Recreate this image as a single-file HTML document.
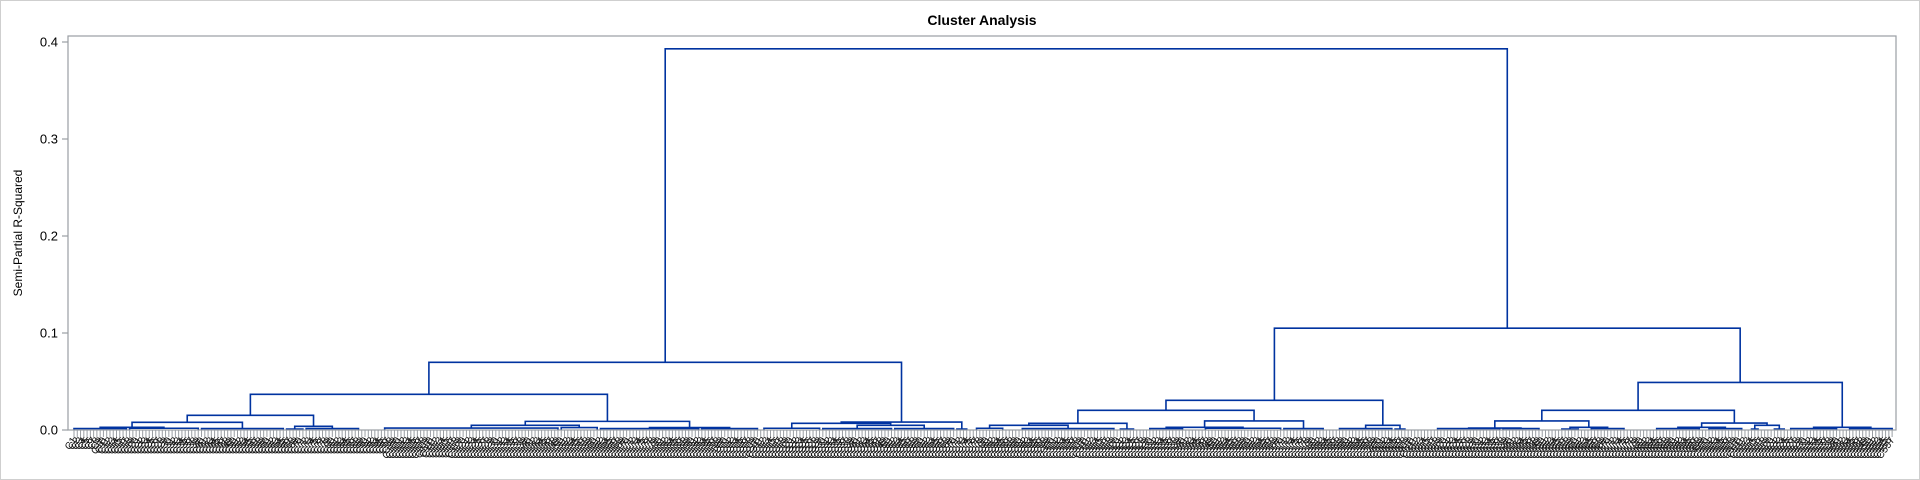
<!DOCTYPE html>
<html><head><meta charset="utf-8"><style>
html,body{margin:0;padding:0;background:#fff;}
svg{display:block;font-family:"Liberation Sans",Arial,sans-serif;}
</style></head><body>
<svg id="chart" width="1920" height="480" viewBox="0 0 1920 480" xmlns="http://www.w3.org/2000/svg">
<rect x="0.5" y="0.5" width="1919" height="479" fill="#fff" stroke="#cfcfcf"/>
<text x="982" y="25" text-anchor="middle" font-size="14" font-weight="bold" fill="#000">Cluster Analysis</text>
<text transform="translate(22,233) rotate(-90)" text-anchor="middle" font-size="12" fill="#000">Semi-Partial R-Squared</text>
<g id="yaxis"></g>
<g id="xaxis"></g>
<g id="tree"></g>
<rect x="68" y="36" width="1828" height="394" fill="none" stroke="#9a9ea3" stroke-width="1.2"/>
</svg>
<script>
const yTicks = [0.0, 0.1, 0.2, 0.3, 0.4];
const yTickLabels = ["0.0", "0.1", "0.2", "0.3", "0.4"];
// leaf groups: merge height, leaf count, unjoined leaves before group
const groupHeights = [0.0015,0.0018,0.0015,0.001,0.0015,0.002,0.0025,0.0015,0.0015,0.0018,0.0015,0.0015,0.001,0.0018,0.0015,0.001,0.0015,0.0018,0.0015,0.0015,0.001,0.0015,0.0015,0.001,0.0015,0.0015,0.0015,0.001,0.001,0.0015,0.0015];
const groupCounts = [17,22,26,6,17,54,12,31,18,18,22,19,4,9,29,5,11,24,13,17,4,20,12,6,11,14,11,3,4,15,14];
const groupGaps = [0,0,0,0,0,7,0,0,0,1,0,0,0,2,5,1,4,6,0,4,0,9,0,6,3,9,2,2,4,1,3];
// merges (linkage): height, left id, right id ; ids >= groups.length refer to earlier merges
const mergeHeights = [0.0028,0.0079,0.0038,0.0151,0.0048,0.0025,0.0089,0.0368,0.0048,0.0069,0.0082,0.0698,0.0048,0.0069,0.0028,0.0093,0.0203,0.0048,0.0306,0.002,0.0028,0.0093,0.0028,0.0048,0.0072,0.0203,0.0028,0.049,0.105,0.393];
const mergeLeft  = [0,31,3,32,5,7,35,34,10,9,40,38,13,43,16,45,44,19,47,21,23,50,25,27,53,52,29,56,49,42];
const mergeRight = [1,2,4,33,6,8,36,37,11,39,12,41,14,15,17,18,46,20,48,22,24,51,26,28,54,55,30,57,58,59];

const NS = "http://www.w3.org/2000/svg";
const X0 = 74, DX = 3.27, Y0 = 430, PXPER = 970;
const xLeaf = i => X0 + DX * i;
const yVal = v => Y0 - v * PXPER;
const COL = "#0033a0";
function mk(tag, attrs, parent){const e=document.createElementNS(NS,tag);for(const k in attrs)e.setAttribute(k,attrs[k]);parent.appendChild(e);return e;}

// y axis
const ya = document.getElementById('yaxis');
yTicks.forEach((t,i)=>{
  const y = yVal(t);
  const tk = mk('line',{x1:62,x2:68,y1:y,y2:y,stroke:'#9a9ea3','stroke-width':1.2},ya);
  
  
  const lb = mk('text',{x:58,y:y+4.5,'text-anchor':'end','font-size':13,fill:'#000'},ya);
  lb.textContent = yTickLabels[i];
  
  
});

// leaves
let total = 0;
groupCounts.forEach((n,g)=>{ total += groupGaps[g] + n; });
const xa = document.getElementById('xaxis');
for(let i=0;i<total;i++){
  const x = xLeaf(i);
  const tk = mk('line',{x1:x,x2:x,y1:430,y2:437,stroke:'#9a9ea3','stroke-width':1},xa);
  
  
  const lb = mk('text',{x:0,y:0,'font-size':10,fill:'#111','text-anchor':'end',transform:`translate(${x+3},440) rotate(-55)`},xa);
  lb.textContent = 'C' + (i+1);
  
  
}

// tree
const tr = document.getElementById('tree');
const nodeX = [], nodeH = [];
let idx = 0;
groupCounts.forEach((n,g)=>{
  idx += groupGaps[g];
  const a = xLeaf(idx), b = xLeaf(idx+n-1), h = groupHeights[g], y = yVal(h);
  const p = mk('path',{d:`M${a},430 V${y} H${b} V430`,fill:'none',stroke:COL,'stroke-width':1.6},tr);
  
  
  nodeX.push((a+b)/2); nodeH.push(h);
  idx += n;
});
mergeHeights.forEach((h,k)=>{
  const l = mergeLeft[k], r = mergeRight[k];
  const xl = nodeX[l], xr = nodeX[r], y = yVal(h);
  const p = mk('path',{d:`M${xl},${yVal(nodeH[l])} V${y} H${xr} V${yVal(nodeH[r])}`,fill:'none',stroke:COL,'stroke-width':1.6},tr);
  
  
  nodeX.push((xl+xr)/2); nodeH.push(h);
});
</script>
</body></html>
